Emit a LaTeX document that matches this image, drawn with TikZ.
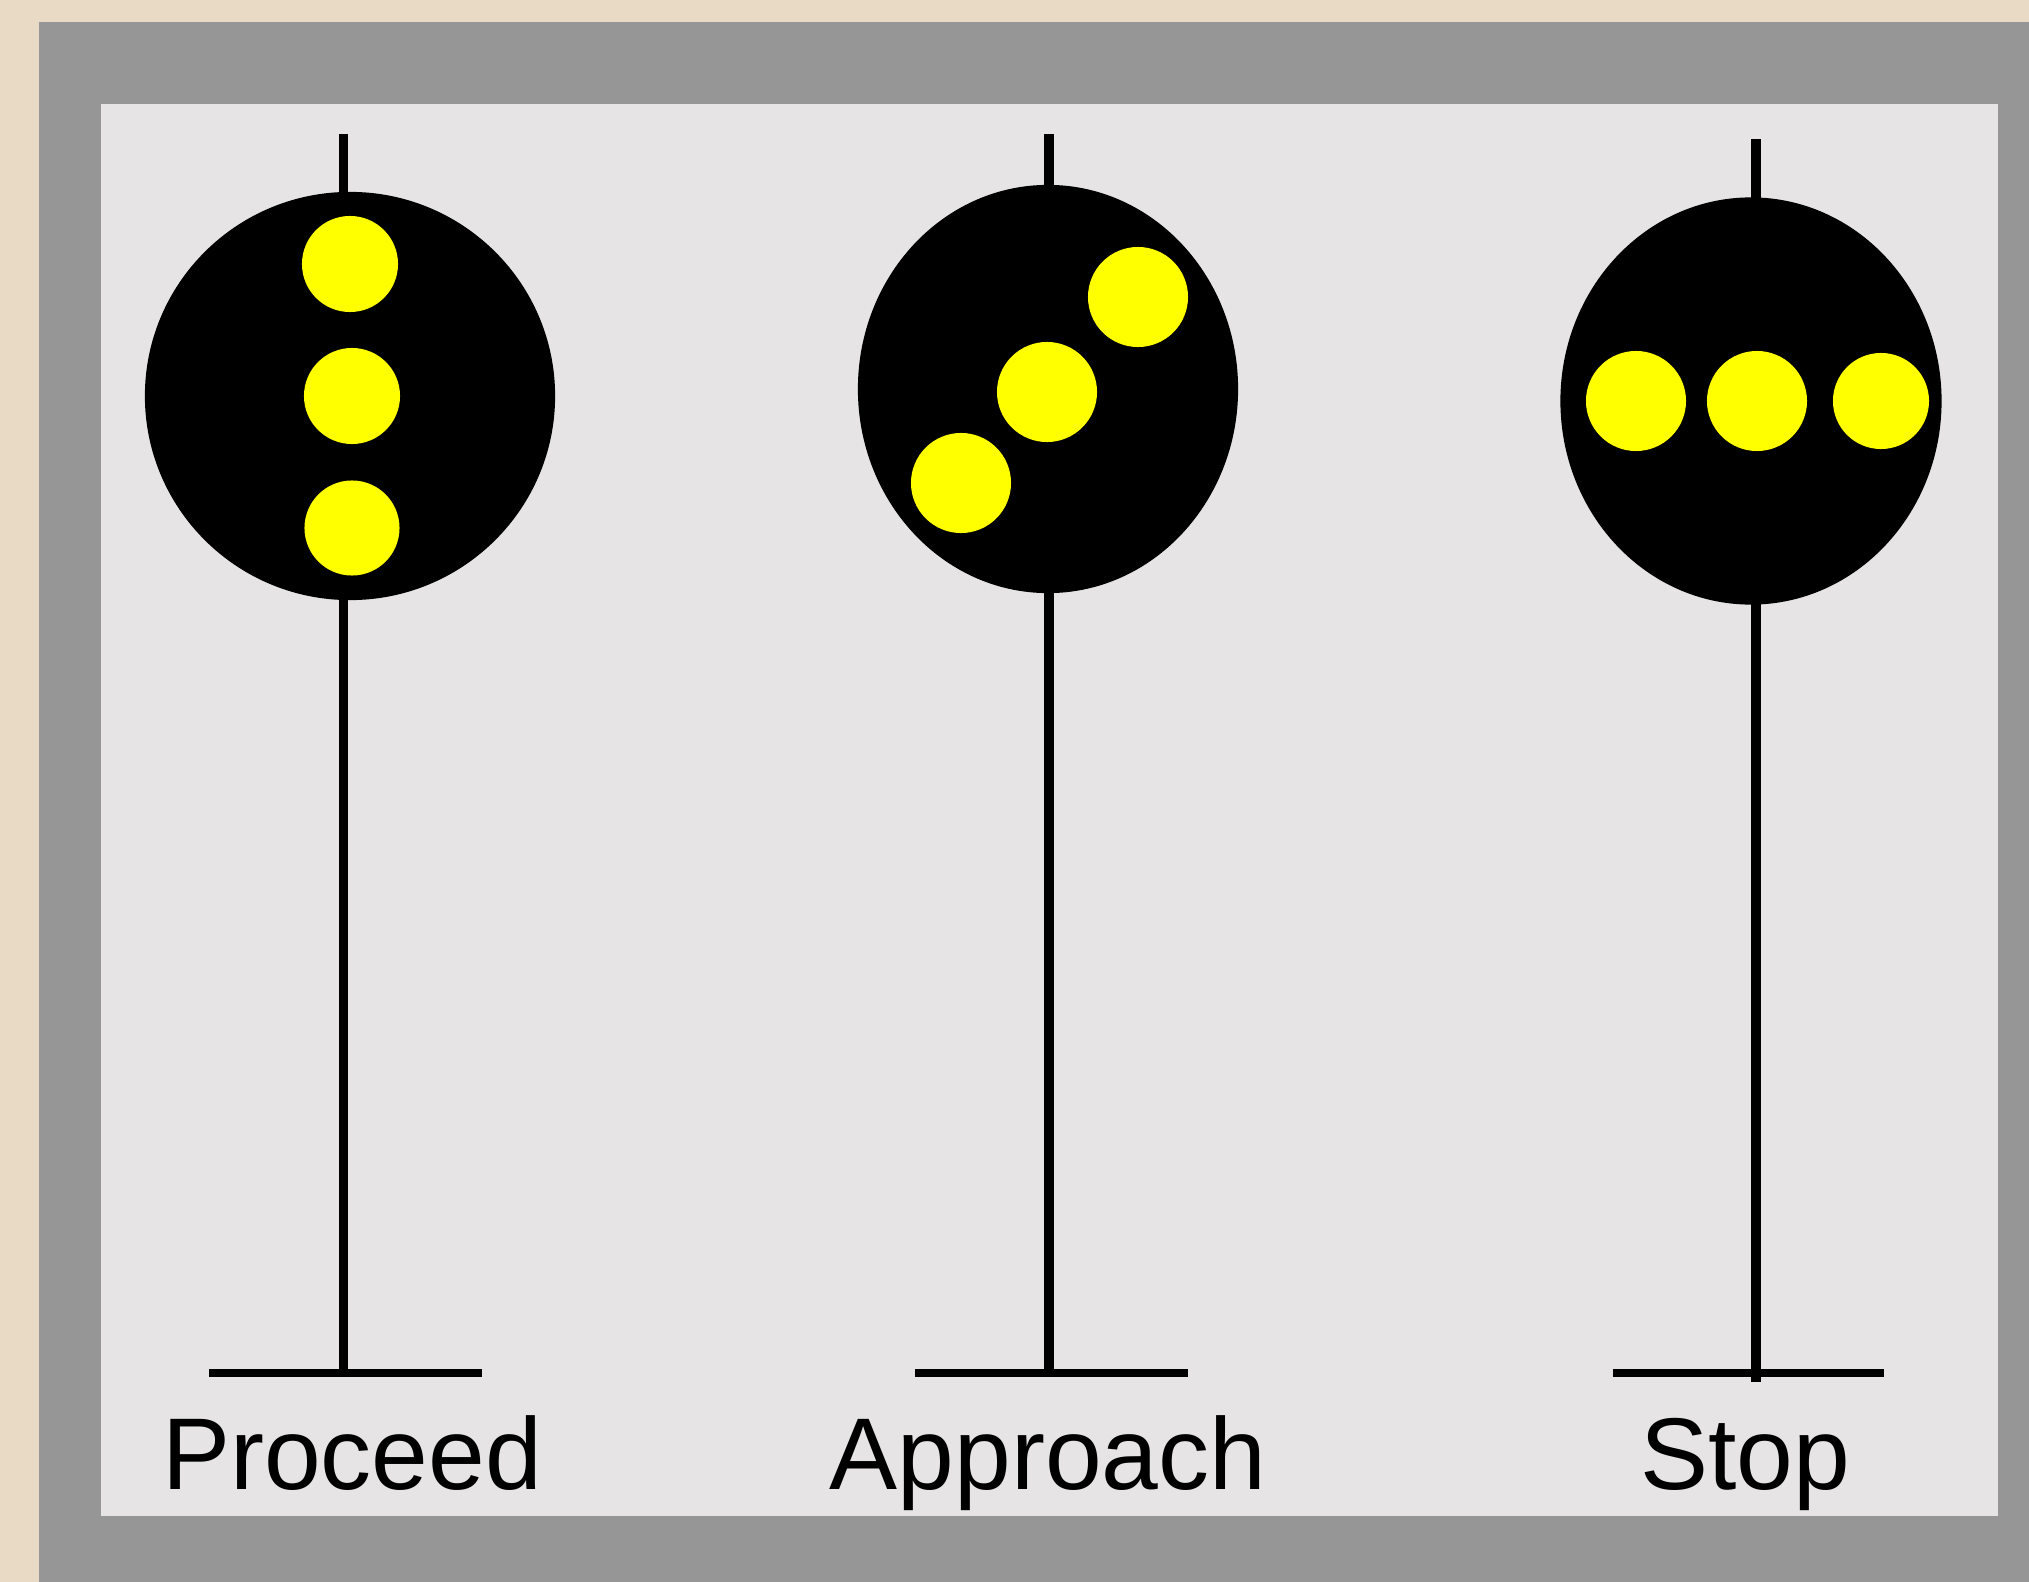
\documentclass[tikz,border=0pt]{standalone}
\usepackage{fontspec}
\setmainfont{Liberation Sans}
\usetikzlibrary{shapes.geometric}

\definecolor{sand}{HTML}{E9DAC5}
\definecolor{framegray}{HTML}{969696}
\definecolor{panel}{HTML}{E6E4E5}
\definecolor{lamp}{HTML}{FFFF00}

\tikzset{
  head/.style={ellipse, fill=black, inner sep=0pt},
  lampdot/.style={circle, fill=lamp, inner sep=0pt, minimum size=0.98cm},
  pole/.style={line width=2.6pt},
  base/.style={line width=2.3pt},
  caption/.style={anchor=base, inner sep=0pt, font=\fontsize{29}{35}\selectfont}
}

\begin{document}
\begin{tikzpicture}[x=0.01cm, y=-0.01cm]
  % page, frame and panel
  \fill[sand] (0,0) rectangle (2029,1582);
  \useasboundingbox (0,0) rectangle (2029,1582);
  \fill[framegray] (39,22) rectangle (2029,1582);
  \fill[panel] (101,104) rectangle (1998,1516);

  % pole ends and feet
  \coordinate (pt1) at (343.5,134);
  \coordinate (pb1) at (343.5,1373);
  \coordinate (fl1) at (209,1373);
  \coordinate (fr1) at (482,1373);
  \coordinate (pt2) at (1049,134);
  \coordinate (pb2) at (1049,1373);
  \coordinate (fl2) at (915,1373);
  \coordinate (fr2) at (1188,1373);
  \coordinate (pt3) at (1756,139);
  \coordinate (pb3) at (1756,1382);
  \coordinate (fl3) at (1613,1373);
  \coordinate (fr3) at (1884,1373);

  \draw[pole] (pt1) -- (pb1);
  \draw[pole] (pt2) -- (pb2);
  \draw[pole] (pt3) -- (pb3);
  \draw[base] (fl1) -- (fr1);
  \draw[base] (fl2) -- (fr2);
  \draw[base] (fl3) -- (fr3);

  % signal heads
  \node[head, minimum width=4.10cm, minimum height=4.08cm] (h1) at (350,396) {};
  \node[head, minimum width=3.80cm, minimum height=4.08cm] (h2) at (1048,389) {};
  \node[head, minimum width=3.81cm, minimum height=4.07cm] (h3) at (1751,401) {};

  % Proceed: vertical row
  \node[lampdot, minimum size=0.96cm] (p1) at (350,264) {};
  \node[lampdot, minimum size=0.96cm] (p2) at (352,396) {};
  \node[lampdot, minimum size=0.95cm] (p3) at (352,528) {};

  % Approach: diagonal row
  \node[lampdot, minimum size=1.0cm] (a1) at (1138,297) {};
  \node[lampdot, minimum size=1.0cm] (a2) at (1047,392) {};
  \node[lampdot, minimum size=1.0cm] (a3) at (961,483) {};

  % Stop: horizontal row
  \node[lampdot, minimum size=1.0cm] (s1) at (1636,401) {};
  \node[lampdot, minimum size=1.0cm] (s2) at (1757,401) {};
  \node[lampdot, minimum size=0.96cm] (s3) at (1881,401) {};

  % captions
  \node[caption] (l1) at (352,1489) {Proceed};
  \node[caption] (l2) at (1048,1489) {Approach};
  \node[caption] (l3) at (1745,1489) {Stop};
\end{tikzpicture}
\end{document}
